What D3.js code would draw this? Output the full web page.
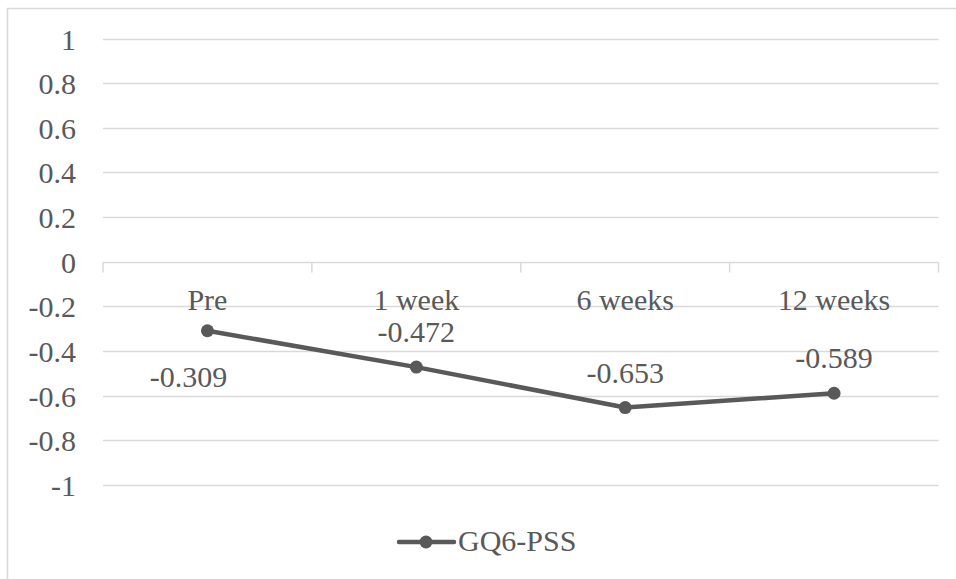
<!DOCTYPE html>
<html><head><meta charset="utf-8">
<script src="https://cdn.jsdelivr.net/npm/d3@7"></script>
<style>html,body{margin:0;padding:0;background:#fff;}svg{display:block;}</style>
</head><body>
<svg id="c" width="956" height="579"></svg>
<script>
const categories = ["Pre", "1 week", "6 weeks", "12 weeks"];
const values = [-0.309, -0.472, -0.653, -0.589];
const seriesName = "GQ6-PSS";
const yTicks = [1, 0.8, 0.6, 0.4, 0.2, 0, -0.2, -0.4, -0.6, -0.8, -1];
const labelPos = ["left", "above", "above", "above"];

const svg = d3.select("#c");
const txt = "#595959", grid = "#d9d9d9";
const fmt = v => String(v).replace("\u2212", "-");
const styleText = s => s.attr("font-family", "Liberation Serif").attr("font-size", 30).attr("fill", txt);

svg.append("path").attr("d", "M7.5,579 V8.5 H956").attr("fill", "none").attr("stroke", grid).attr("stroke-width", 1.5);

const x = d3.scaleBand().domain(categories).range([103, 938.5]).padding(0);
const y = d3.scaleLinear().domain([-1, 1]).range([485, 38.5]);

svg.append("g").selectAll("line").data(yTicks).join("line")
  .attr("x1", 103).attr("x2", 938.5)
  .attr("y1", d => Math.round(y(d)) + 0.5).attr("y2", d => Math.round(y(d)) + 0.5)
  .attr("stroke", grid).attr("stroke-width", 1.5);

svg.append("g").selectAll("text").data(yTicks).join("text")
  .attr("x", 76).attr("y", d => y(d) + 11)
  .attr("text-anchor", "end").text(d => fmt(d)).call(styleText);

const ay = Math.round(y(0)) + 0.5;
const tickXs = categories.map(c => x(c)).concat([x(categories[categories.length - 1]) + x.bandwidth()]);
svg.append("g").selectAll("line").data(tickXs).join("line")
  .attr("x1", d => d).attr("x2", d => d).attr("y1", ay).attr("y2", ay + 10)
  .attr("stroke", grid).attr("stroke-width", 1.5);

svg.append("g").selectAll("text").data(categories).join("text")
  .attr("x", d => x(d) + x.bandwidth() / 2).attr("y", 310)
  .attr("text-anchor", "middle").text(d => d).call(styleText);

const cx = (d, i) => x(categories[i]) + x.bandwidth() / 2;
const line = d3.line().x((d, i) => cx(d, i)).y(d => y(d));
svg.append("path").datum(values).attr("d", line)
  .attr("fill", "none").attr("stroke", txt).attr("stroke-width", 4.5).attr("stroke-linejoin", "round");
svg.append("g").selectAll("circle").data(values).join("circle")
  .attr("cx", cx).attr("cy", d => y(d)).attr("r", 6.5).attr("fill", txt);

svg.append("g").selectAll("text").data(values).join("text")
  .attr("x", (d, i) => labelPos[i] === "left" ? cx(d, i) - 19 : cx(d, i))
  .attr("y", (d, i) => labelPos[i] === "left" ? y(d) + 56.5 : y(d) - 25)
  .attr("text-anchor", "middle").text(d => d3.format(".3f")(d).replace("\u2212", "-")).call(styleText);

const lg = svg.append("g");
lg.append("line").attr("x1", 399).attr("x2", 454).attr("y1", 542).attr("y2", 542)
  .attr("stroke", txt).attr("stroke-width", 4.5).attr("stroke-linecap", "round");
lg.append("circle").attr("cx", 426).attr("cy", 542).attr("r", 6.5).attr("fill", txt);
lg.append("text").attr("x", 458).attr("y", 551).text(seriesName).call(styleText);
</script>
</body></html>
